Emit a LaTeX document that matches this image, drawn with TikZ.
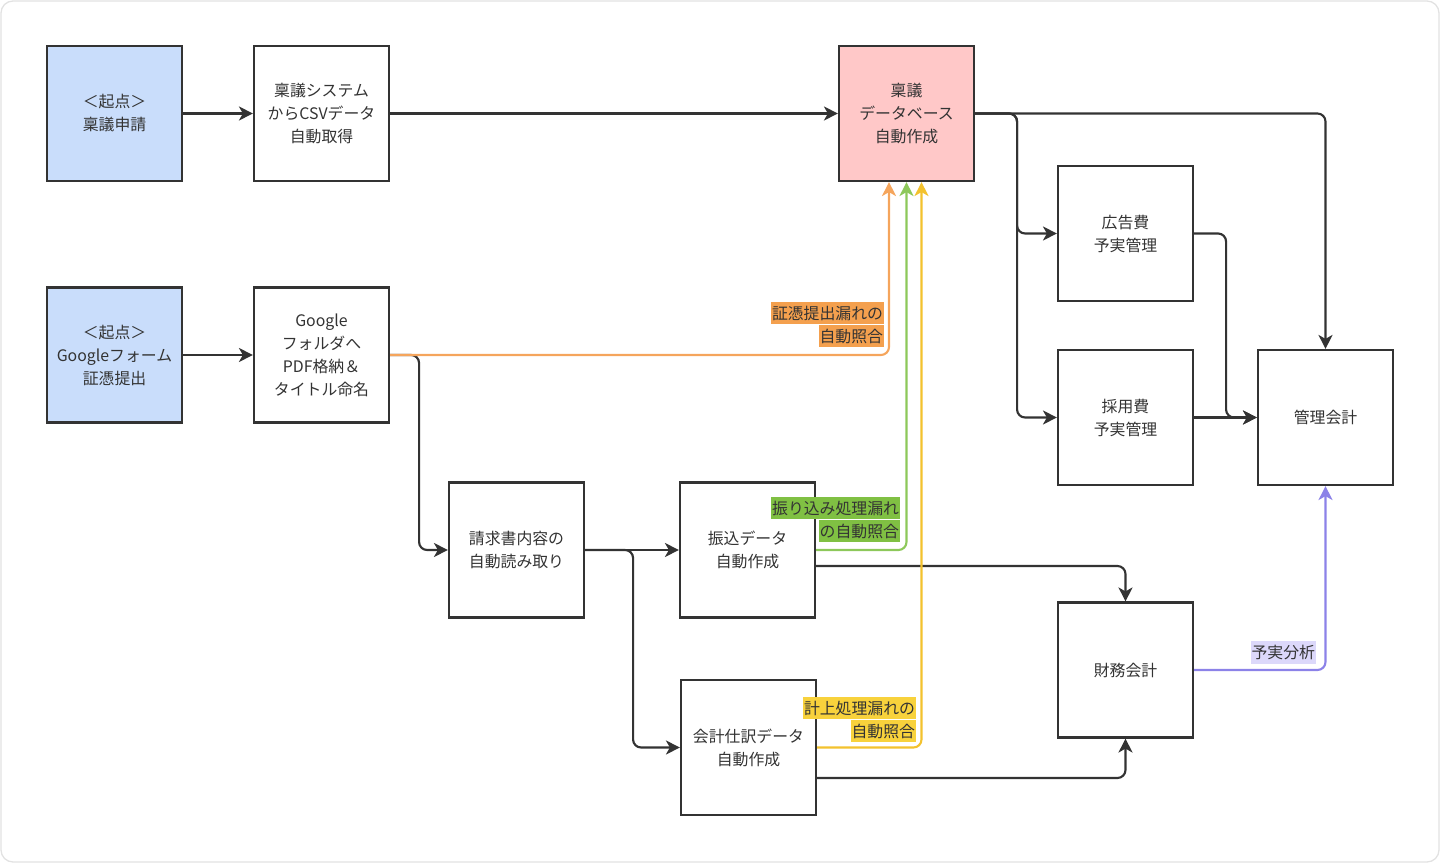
\documentclass[tikz,border=0pt]{standalone}
\usepackage{fontspec}
\setmainfont{Noto Sans CJK JP}
\usetikzlibrary{arrows.meta,calc}
\definecolor{ink}{HTML}{333333}
\definecolor{startblue}{HTML}{C9DDFB}
\definecolor{dbpink}{HTML}{FFC8C8}
\definecolor{lorange}{HTML}{F5A55C}
\definecolor{borange}{HTML}{F4A04E}
\definecolor{lgreen}{HTML}{8DC85A}
\definecolor{bgreen}{HTML}{80C043}
\definecolor{lyellow}{HTML}{F3C22E}
\definecolor{byellow}{HTML}{F8D23C}
\definecolor{lpurple}{HTML}{8C82E8}
\definecolor{bpurple}{HTML}{DCD8FA}
\definecolor{framegray}{HTML}{E2E2E2}
\tikzset{
  box/.style={draw=ink, line width=1.6pt, minimum width=101.25pt, minimum height=101.25pt,
    align=center, inner sep=0pt, text=ink, font=\fontsize{11.9pt}{17.25pt}\selectfont},
  conn/.style={draw=ink, line width=1.6pt, rounded corners=6pt,
    -{Stealth[length=10.5pt,width=10.5pt,inset=3pt]}},
  cconn/.style={line width=1.6pt, rounded corners=6pt,
    -{Stealth[length=10.5pt,width=10.5pt,inset=3pt]}},
  lab/.style={anchor=east, inner xsep=0.5pt, inner ysep=0pt, minimum height=16.8pt,
    text=ink, font=\fontsize{11.9pt}{14pt}\selectfont}
}
\begin{document}
\begin{tikzpicture}[x=0.75pt,y=-0.75pt]
\useasboundingbox (0,0) rectangle (1440,863);
\draw[framegray, line width=1pt, rounded corners=9pt] (1,1) rectangle (1439,862);

% nodes
\node[box, fill=startblue] (A) at (114.5,113.5) {＜起点＞\\稟議申請};
\node[box] (B) at (321.5,113.5) {稟議システム\\からCSVデータ\\自動取得};
\node[box, fill=dbpink] (C) at (906.5,113.5) {稟議\\データベース\\自動作成};
\node[box, fill=startblue] (D) at (114.5,355) {＜起点＞\\Googleフォーム\\証憑提出};
\node[box] (E) at (321.5,355) {Google\\フォルダへ\\PDF格納＆\\タイトル命名};
\node[box] (F) at (516.5,550) {請求書内容の\\自動読み取り};
\node[box] (G) at (747.5,550) {振込データ\\自動作成};
\node[box] (H) at (748.5,747.5) {会計仕訳データ\\自動作成};
\node[box] (I) at (1125.5,233.5) {広告費\\予実管理};
\node[box] (J) at (1125.5,417.5) {採用費\\予実管理};
\node[box] (K) at (1325.5,417.5) {管理会計};
\node[box] (L) at (1125.5,670) {財務会計};

% black connectors
\draw[conn] (A) -- (B);
\draw[conn] (B) -- (C);
\draw[conn] (C.east) -| (K.north);
\draw[conn] (C.east) -- ++(42,0) |- (I.west);
\draw[conn] (C.east) -- ++(42,0) |- (J.west);
\draw[conn] (I.east) -- ++(32,0) |- (K.west);
\draw[conn] (J) -- (K);
\draw[conn] (D) -- (E);
\draw[conn] (E.east) -- ++(29,0) |- (F.west);
\draw[conn] (F) -- (G);
\draw[conn] (F.east) -- ++(48,0) |- (H.west);
\draw[conn] ($(G.east)+(0,16)$) -| (L.north);
\draw[conn] ($(H.east)+(0,30.5)$) -| (L.south);

% coloured connectors
\draw[cconn, draw=lorange] (E.east) -| ($(C.south)+(-17.5,0)$);
\draw[cconn, draw=lgreen] (G.east) -| (C.south);
\draw[cconn, draw=lyellow] (H.east) -| ($(C.south)+(15,0)$);
\draw[cconn, draw=lpurple] (L.east) -| (K.south);

% labels
\node[lab, fill=borange] (o1) at (884,313) {証憑提出漏れの};
\node[lab, fill=borange] (o2) at (884,336) {自動照合};
\node[lab, fill=bgreen] (g1) at (900,508) {振り込み処理漏れ};
\node[lab, fill=bgreen] (g2) at (900,531) {の自動照合};
\node[lab, fill=byellow] (y1) at (916,708) {計上処理漏れの};
\node[lab, fill=byellow] (y2) at (916,731) {自動照合};
\node[lab, fill=bpurple] (p1) at (1316,652.5) {予実分析};
\end{tikzpicture}
\end{document}
